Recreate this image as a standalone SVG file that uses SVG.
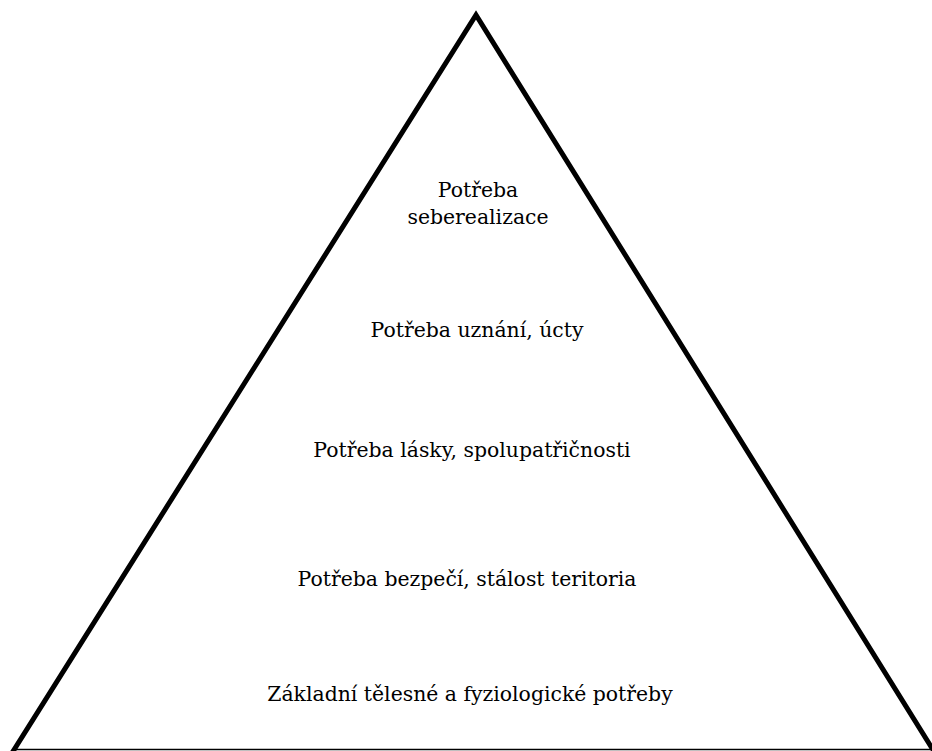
<svg xmlns="http://www.w3.org/2000/svg" width="932" height="751" viewBox="0 0 932 751">
<style>
text{font-family:'DejaVu Serif',serif;font-size:20.4px;fill:#000;text-anchor:middle}
</style>
<rect width="932" height="751" fill="#fff"/>
<g id="pyramid">
<line x1="14" y1="749.5" x2="930" y2="749.5" stroke="#000" stroke-width="1.5"/>
<polyline points="12,753 476,15 935,753" fill="none" stroke="#000" stroke-width="5" stroke-linejoin="miter"/>
</g>
<g id="level5"><text x="478" y="197">Potřeba</text><text x="478" y="224">seberealizace</text></g>
<g id="level4"><text x="477" y="337">Potřeba uznání, úcty</text></g>
<g id="level3"><text x="472" y="457">Potřeba lásky, spolupatřičnosti</text></g>
<g id="level2"><text x="467" y="586">Potřeba bezpečí, stálost teritoria</text></g>
<g id="level1"><text x="470" y="701">Základní tělesné a fyziologické potřeby</text></g>
</svg>
